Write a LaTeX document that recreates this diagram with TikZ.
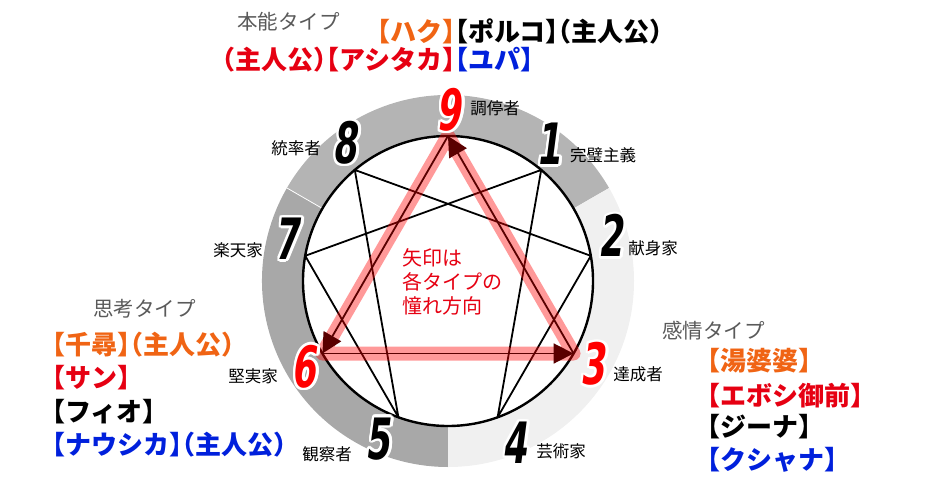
\documentclass[tikz,border=0pt]{standalone}
\usepackage{fontspec}
\usepackage{contour}
\setmainfont{Noto Sans CJK JP}
\newfontfamily\numfont[FakeStretch=0.62,FakeSlant=0.13]{DejaVu Sans}
\usetikzlibrary{arrows.meta,calc}
\contourlength{2.5pt}
\definecolor{topgray}{RGB}{180,180,180}
\definecolor{leftgray}{RGB}{168,168,168}
\definecolor{rightgray}{RGB}{240,240,240}
\definecolor{jorange}{RGB}{240,100,20}
\definecolor{jred}{RGB}{230,0,18}
\definecolor{jblue}{RGB}{0,32,220}
\definecolor{hgray}{RGB}{90,90,90}
\definecolor{arrowred}{RGB}{90,0,0}
\tikzset{
  nstyle/.style={inner sep=0pt, font=\numfont\bfseries\fontsize{57}{57}\selectfont},
  lbl/.style={inner sep=0pt, font=\fontsize{16.5}{18}\selectfont},
  who/.style={inner sep=0pt, anchor=west, font=\addfontfeatures{RawFeature=+halt}\bfseries\fontsize{26}{28}\selectfont},
  hd/.style={inner sep=0pt, anchor=west, text=hgray, font=\fontsize{20.5}{22}\selectfont},
  ctext/.style={inner sep=0pt, anchor=west, text=jred, font=\fontsize{20}{21}\selectfont},
  hexline/.style={line width=1.8pt, black},
  band/.style={line width=14pt, red, opacity=0.4, line join=round},
  arr/.style={line width=1.8pt, arrowred, -{Triangle[length=20pt,width=20pt]}}
}
\begin{document}
\begin{tikzpicture}[x=1pt,y=-1pt]
\useasboundingbox (0,0) rectangle (931,489);
\coordinate (C) at (448,281);
% ring
\fill[topgray] (C) -- ++(-30:186) arc[start angle=-30,end angle=-150,radius=186] -- cycle;
\fill[leftgray] (C) -- ++(-150:186) arc[start angle=-150,end angle=-270,radius=186] -- cycle;
\fill[rightgray] (C) -- ++(90:186) arc[start angle=90,end angle=-30,radius=186] -- cycle;
\draw[white, line width=0.8pt] (C) ++(-150:145) -- ++(-150:41);
\fill[white] (C) circle[radius=145];
\draw[line width=2.4pt] (C) circle[radius=145];
% points
\path (C) ++(-90:145) coordinate (p9);
\path (C) ++(-50:145) coordinate (p1);
\path (C) ++(-10:145) coordinate (p2);
\path (C) ++(30:145) coordinate (p3);
\path (C) ++(70:145) coordinate (p4);
\path (C) ++(110:145) coordinate (p5);
\path (C) ++(150:145) coordinate (p6);
\path (C) ++(190:145) coordinate (p7);
\path (C) ++(230:145) coordinate (p8);
% hexad
\draw[hexline, line join=round] (p1) -- (p4) -- (p2) -- (p8) -- (p5) -- (p7) -- cycle;
% band
\draw[band] (p9) -- (p3) -- (p6) -- cycle;
% arrows
\draw[arr] (p3) -- (p9);
\draw[arr] (p9) -- (p6);
\draw[arr] (p6) -- (p3);
% numbers
\node[nstyle] (n9) at (449,111) {\color{red}\contour{white}{9}};
\node[nstyle] (n1) at (549,145) {\contour{white}{1}};
\node[nstyle] (n2) at (611,237) {\contour{white}{2}};
\node[nstyle] (n3) at (593,365) {\color{red}\contour{white}{3}};
\node[nstyle] (n4) at (515,444) {\contour{white}{4}};
\node[nstyle] (n5) at (378,440) {\contour{white}{5}};
\node[nstyle] (n6) at (304,368) {\color{red}\contour{white}{6}};
\node[nstyle] (n7) at (287,240) {\contour{white}{7}};
\node[nstyle] (n8) at (345,144) {\contour{white}{8}};
% type labels
\node[lbl] (l9) at (495,108) {調停者};
\node[lbl] (l1) at (603,155) {完璧主義};
\node[lbl] (l2) at (653,248) {献身家};
\node[lbl] (l3) at (638,374) {達成者};
\node[lbl] (l4) at (561,451) {芸術家};
\node[lbl] (l5) at (327,454) {観察者};
\node[lbl] (l6) at (253,376) {堅実家};
\node[lbl] (l7) at (238,250) {楽天家};
\node[lbl] (l8) at (296,148) {統率者};
% center text
\node[ctext] (c1) at (402,258) {矢印は};
\node[ctext] (c2) at (402,282) {各タイプの};
\node[ctext] (c3) at (402,306) {憧れ方向};
% headings
\node[hd] (h1) at (237,22) {本能タイプ};
\node[hd] (h2) at (93,309) {思考タイプ};
\node[hd] (h3) at (662,331) {感情タイプ};
% top group
\node[who] (t1) at (377,31) {\textcolor{jorange}{【ハク】}\textcolor{black}{【ポルコ】（主人公）}};
\node[who] (t2) at (222,60) {\textcolor{jred}{（主人公）【アシタカ】}\textcolor{jblue}{【ユパ】}};
% left group
\node[who, text=jorange] (a1) at (52,345) {【千尋】（主人公）};
\node[who, text=jred] (a2) at (52,378) {【サン】};
\node[who, text=black] (a3) at (52,412) {【フィオ】};
\node[who, text=jblue] (a4) at (52,445) {【ナウシカ】（主人公）};
% right group
\node[who, text=jorange] (b1) at (707,361) {【湯婆婆】};
\node[who, text=jred] (b2) at (707,396) {【エボシ御前】};
\node[who, text=black] (b3) at (707,427) {【ジーナ】};
\node[who, text=jblue] (b4) at (707,460) {【クシャナ】};
\end{tikzpicture}
\end{document}
